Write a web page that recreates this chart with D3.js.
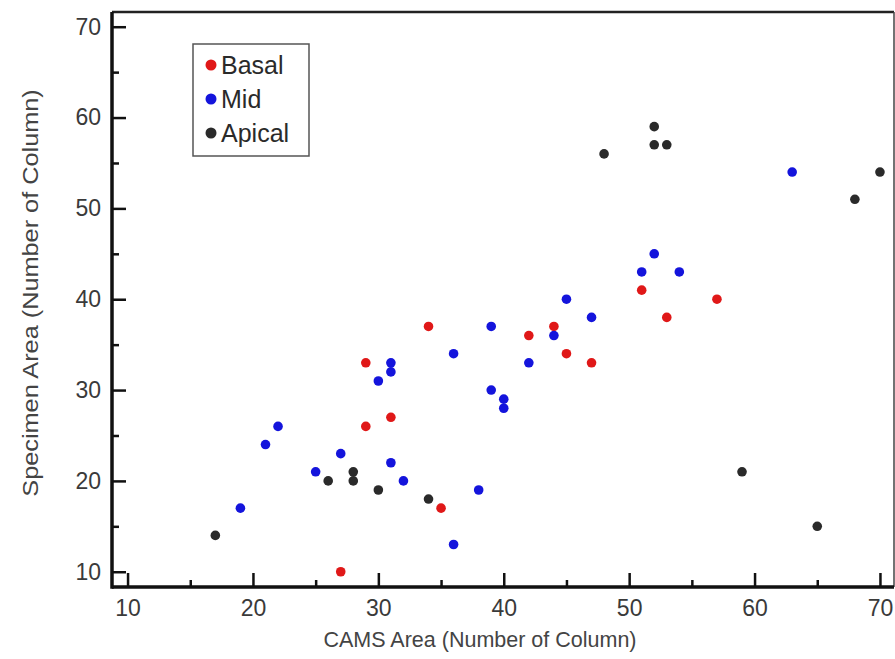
<!DOCTYPE html>
<html>
<head>
<meta charset="utf-8">
<script src="https://cdn.jsdelivr.net/npm/d3@7/dist/d3.min.js"></script>
<style>
  html, body { margin: 0; padding: 0; background: #ffffff; }
  svg { display: block; font-family: "Liberation Sans", Arial, sans-serif; }
</style>
</head>
<body>
<svg id="chart" width="895" height="659"></svg>
<script>
// Column counts per region: CAMS (x) vs specimen (y)
const seriesNames = ["Basal", "Mid", "Apical"];
const seriesColors = ["#e01818", "#1414dc", "#2a2a2a"];

const basalX = [27, 29, 29, 31, 34, 35, 42, 44, 45, 47, 51, 53, 57];
const basalY = [10, 33, 26, 27, 37, 17, 36, 37, 34, 33, 41, 38, 40];

const midX = [19, 21, 22, 25, 27, 30, 31, 31, 31, 32, 36, 36, 38, 39, 39, 40, 40, 42, 44, 45, 47, 51, 52, 54, 63];
const midY = [17, 24, 26, 21, 23, 31, 33, 32, 22, 20, 34, 13, 19, 37, 30, 29, 28, 33, 36, 40, 38, 43, 45, 43, 54];

const apicalX = [17, 26, 28, 28, 30, 34, 48, 52, 52, 53, 59, 65, 68, 70];
const apicalY = [14, 20, 21, 20, 19, 18, 56, 59, 57, 57, 21, 15, 51, 54];

const xMajorTicks = [10, 20, 30, 40, 50, 60, 70];
const xMinorTicks = [15, 25, 35, 45, 55, 65];
const yMajorTicks = [10, 20, 30, 40, 50, 60, 70];
const yMinorTicks = [15, 25, 35, 45, 55, 65];

const xTitle = "CAMS Area (Number of Column)";
const yTitle = "Specimen Area (Number of Column)";

const series = [
  { name: seriesNames[0], color: seriesColors[0], pts: d3.zip(basalX, basalY) },
  { name: seriesNames[1], color: seriesColors[1], pts: d3.zip(midX, midY) },
  { name: seriesNames[2], color: seriesColors[2], pts: d3.zip(apicalX, apicalY) }
];

const margin = { left: 112, top: 12, right: 1, bottom: 72 };
const W = 895, H = 659;
const iw = W - margin.left - margin.right;
const ih = H - margin.top - margin.bottom;

const svg = d3.select("#chart");
const g = svg.append("g").attr("transform", `translate(${margin.left},${margin.top})`);

const x = d3.scaleLinear().domain([8.76, 71.12]).range([0, iw]);
const y = d3.scaleLinear().domain([8.32, 71.62]).range([ih, 0]);

const axisColor = "#111";
const textColor = "#3a3a3a";

// frame: heavy left/bottom axes, lighter top/right edges
g.append("line").attr("x1", 0).attr("x2", iw).attr("y1", 0).attr("y2", 0)
  .attr("stroke", "#222").attr("stroke-width", 2.5);
g.append("line").attr("x1", iw).attr("x2", iw).attr("y1", 0).attr("y2", ih)
  .attr("stroke", "#444").attr("stroke-width", 1.5);

// x axis (ticks point inward)
const xAxis = g.append("g").attr("transform", `translate(0,${ih})`)
  .call(d3.axisBottom(x).tickValues(xMajorTicks).tickSize(-14).tickPadding(13)
    .tickFormat(d3.format("d")));
xAxis.select(".domain").remove();
xAxis.selectAll(".tick line").attr("stroke", axisColor).attr("stroke-width", 2.5);
xAxis.selectAll(".tick text").attr("fill", textColor).attr("font-size", 23);

const xMinor = g.append("g").attr("transform", `translate(0,${ih})`)
  .call(d3.axisBottom(x).tickValues(xMinorTicks).tickSize(-7).tickFormat(""));
xMinor.select(".domain").remove();
xMinor.selectAll(".tick line").attr("stroke", axisColor).attr("stroke-width", 2.5);

// y axis (ticks point inward)
const yAxis = g.append("g")
  .call(d3.axisLeft(y).tickValues(yMajorTicks).tickSize(-14).tickPadding(11)
    .tickFormat(d3.format("d")));
yAxis.select(".domain").remove();
yAxis.selectAll(".tick line").attr("stroke", axisColor).attr("stroke-width", 2.5);
yAxis.selectAll(".tick text").attr("fill", textColor).attr("font-size", 23);

const yMinor = g.append("g")
  .call(d3.axisLeft(y).tickValues(yMinorTicks).tickSize(-7).tickFormat(""));
yMinor.select(".domain").remove();
yMinor.selectAll(".tick line").attr("stroke", axisColor).attr("stroke-width", 2.5);

g.append("line").attr("x1", 0).attr("x2", iw).attr("y1", ih).attr("y2", ih)
  .attr("stroke", axisColor).attr("stroke-width", 3.5);
g.append("line").attr("x1", 0).attr("x2", 0).attr("y1", 0).attr("y2", ih + 1.75)
  .attr("stroke", axisColor).attr("stroke-width", 3.5);

// axis titles
svg.append("text")
  .attr("x", 480).attr("y", 647)
  .attr("text-anchor", "middle")
  .attr("fill", "#444").attr("font-size", 21.5)
  .text(xTitle);

svg.append("text")
  .attr("transform", "translate(38,293) rotate(-90) scale(1.15,1)")
  .attr("text-anchor", "middle")
  .attr("fill", "#444").attr("font-size", 22)
  .text(yTitle);

// points
series.forEach(s => {
  g.append("g").selectAll("circle")
    .data(s.pts)
    .join("circle")
    .attr("cx", d => x(d[0]))
    .attr("cy", d => y(d[1]))
    .attr("r", 4.8)
    .attr("fill", s.color);
});

// legend
const lg = svg.append("g").attr("transform", "translate(193,44)");
lg.append("rect").attr("width", 116).attr("height", 112)
  .attr("fill", "#fff").attr("stroke", "#555").attr("stroke-width", 1.5);
series.forEach((s, i) => {
  const cy = 21 + i * 34;
  lg.append("circle").attr("cx", 18).attr("cy", cy).attr("r", 5.5).attr("fill", s.color);
  lg.append("text").attr("x", 28).attr("y", cy).attr("dy", "0.36em")
    .attr("fill", "#2a2a2a").attr("font-size", 25).text(s.name);
});
</script>
</body>
</html>
